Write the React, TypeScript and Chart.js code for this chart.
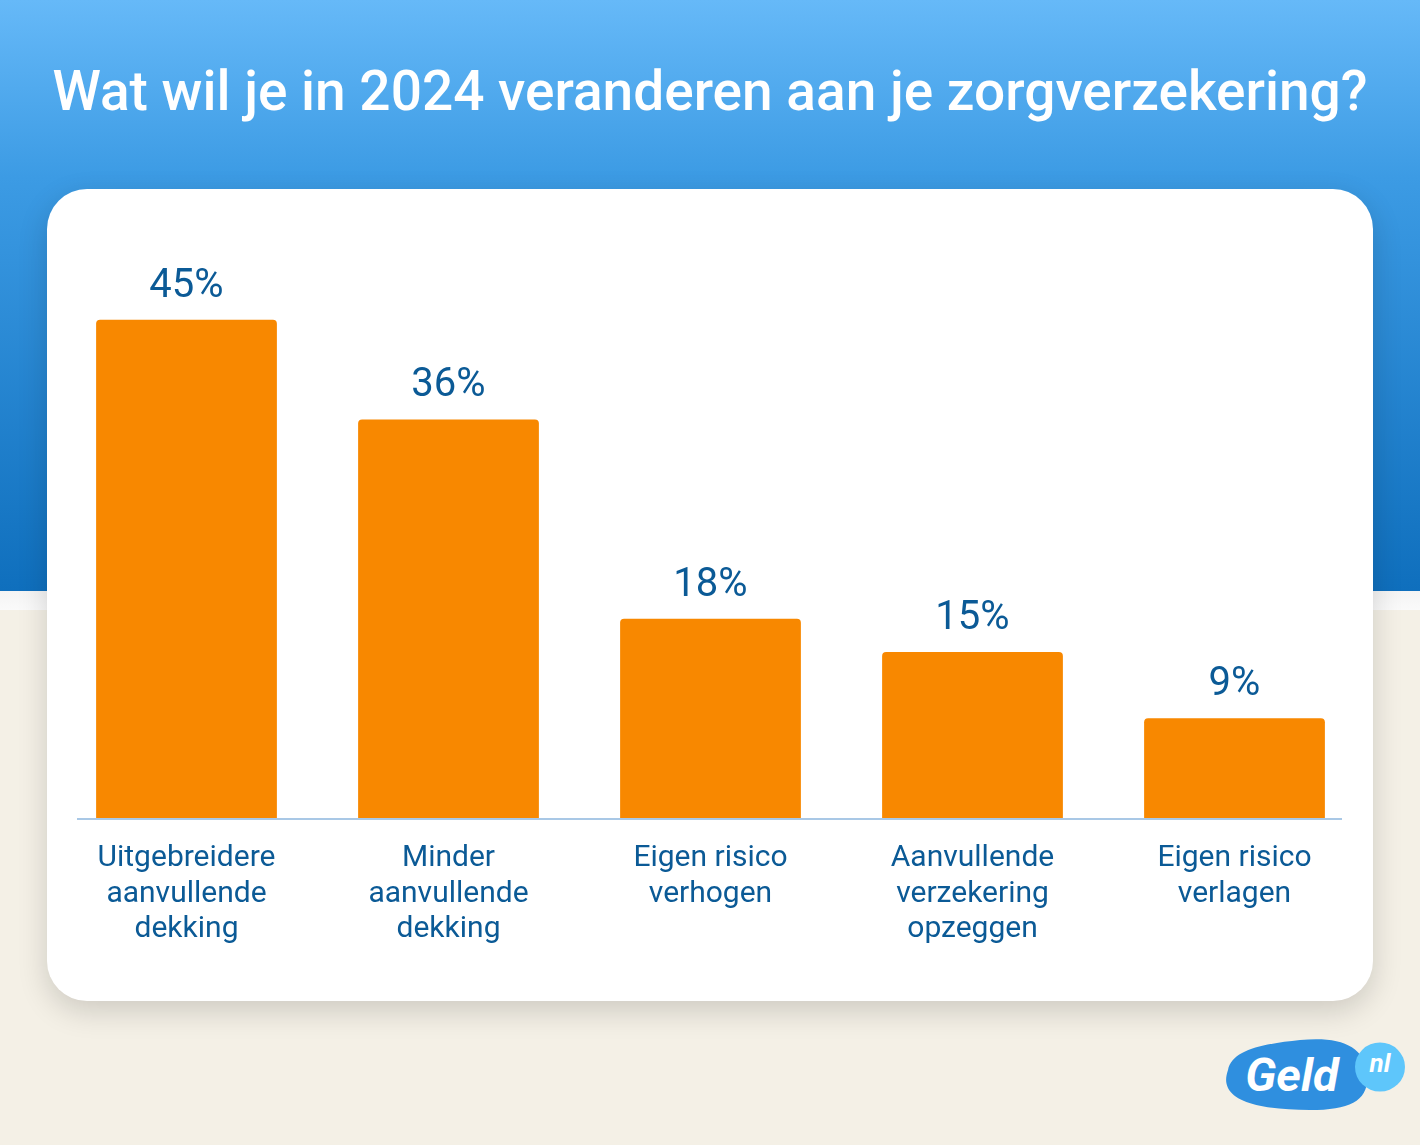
import React, { useEffect, useRef } from "react";
import { Chart, registerables } from "chart.js";

Chart.register(...registerables);

const title = "Wat wil je in 2024 veranderen aan je zorgverzekering?";
const categories: string[][] = [
  ["Uitgebreidere", "aanvullende", "dekking"],
  ["Minder", "aanvullende", "dekking"],
  ["Eigen risico", "verhogen"],
  ["Aanvullende", "verzekering", "opzeggen"],
  ["Eigen risico", "verlagen"],
];
const values = [45, 36, 18, 15, 9];
const valueLabels = ["45%", "36%", "18%", "15%", "9%"];
const yMax = 50;

const TEXT_BLUE = "#0b5a96";

const overlayPlugin = {
  id: "overlay",
  afterDatasetsDraw(chart: any) {
    const { ctx, chartArea, scales } = chart;
    const xs = scales.x;
    const ys = scales.y;
    ctx.save();
    ctx.strokeStyle = "#a9c8e6";
    ctx.lineWidth = 2;
    ctx.beginPath();
    ctx.moveTo(chartArea.left + 21.5, chartArea.bottom + 1);
    ctx.lineTo(chartArea.right - 23.5, chartArea.bottom + 1);
    ctx.stroke();

    ctx.fillStyle = TEXT_BLUE;
    ctx.textAlign = "center";
    ctx.textBaseline = "alphabetic";
    values.forEach((v, i) => {
      const px = xs.getPixelForValue(i);
      const py = ys.getPixelForValue(v);
      ctx.font = "40px Roboto";
      ctx.fillText(valueLabels[i], px, py - 23);
      ctx.font = "30px Roboto";
      categories[i].forEach((line, j) => {
        ctx.fillText(line, px, chartArea.bottom + 48 + j * 35.5);
      });
    });
    ctx.restore();
  },
};

function BarChart() {
  const ref = useRef<HTMLCanvasElement | null>(null);
  useEffect(() => {
    let chart: Chart | null = null;
    let cancelled = false;
    const make = () => {
      if (cancelled || !ref.current) return;
      chart = new Chart(ref.current, {
        type: "bar",
        data: {
          labels: categories.map((c) => c.join(" ")),
          datasets: [
            {
              data: values,
              backgroundColor: "#f88800",
              borderRadius: 4,
              borderSkipped: "bottom",
              categoryPercentage: 1,
              barPercentage: 0.69,
            },
          ],
        },
        options: {
          responsive: false,
          animation: false,
          maintainAspectRatio: false,
          layout: { padding: { left: 8.5, right: 7.5, top: 75.5, bottom: 183 } },
          plugins: { legend: { display: false }, tooltip: { enabled: false }, title: { display: false } },
          scales: {
            x: { display: false },
            y: { display: false, min: 0, max: yMax },
          },
        },
        plugins: [overlayPlugin],
      });
    };
    const fonts: any = (document as any).fonts;
    if (fonts && fonts.load) {
      Promise.all([fonts.load("40px Roboto"), fonts.load("30px Roboto")]).then(make, make);
    } else make();
    return () => {
      cancelled = true;
      if (chart) chart.destroy();
    };
  }, []);
  return <canvas ref={ref} width={1326} height={812} style={{ display: "block", width: 1326, height: 812 }} />;
}

function Logo() {
  return (
    <svg width={220} height={110} viewBox="1200 1020 220 110" style={{ position: "absolute", left: 1200, top: 1020 }}>
      <path
        d="M1228 1070 C1232 1050 1262 1044 1300 1040 C1340 1036 1364 1046 1367 1072 C1370 1100 1352 1110 1310 1110 C1268 1110 1236 1104 1228 1088 C1225 1082 1226 1076 1228 1070 Z"
        fill="#2f8fdf"
      />
      <ellipse cx={1380} cy={1067} rx={25} ry={24.5} fill="#5ec6fb" />
      <text x={1292} y={1091} textAnchor="middle" fill="#fff" fontFamily="Roboto" fontWeight={700} fontStyle="italic" fontSize={47}>
        Geld
      </text>
      <text x={1380} y={1072} textAnchor="middle" fill="#fff" fontFamily="Roboto" fontWeight={700} fontStyle="italic" fontSize={26}>
        nl
      </text>
    </svg>
  );
}

export default function App() {
  useEffect(() => {
    document.body.style.margin = "0";
  }, []);
  return (
    <div style={{ position: "absolute", left: 0, top: 0, width: 1420, height: 1145, overflow: "hidden", background: "#f4f0e6", fontFamily: "Roboto" }}>
      <div style={{ position: "absolute", left: 0, top: 0, width: 1420, height: 591, background: "linear-gradient(180deg, #66b9f8 0%, #3c9be4 30%, #0f6fbd 100%)" }} />
      <div style={{ position: "absolute", left: 0, top: 591, width: 1420, height: 19, background: "linear-gradient(180deg, #f4f4f4 0%, #fafafa 100%)" }} />
      <div
        style={{
          position: "absolute",
          left: 0,
          top: 61,
          width: 1420,
          lineHeight: "60px",
          fontSize: 55,
          fontWeight: 500,
          color: "#ffffff",
          textAlign: "center",
          whiteSpace: "nowrap",
        }}
      >
        {title}
      </div>
      <div
        style={{
          position: "absolute",
          left: 47,
          top: 189,
          width: 1326,
          height: 812,
          background: "#ffffff",
          borderRadius: 40,
          boxShadow: "0 10px 30px rgba(0,0,0,0.16)",
          overflow: "hidden",
        }}
      >
        <BarChart />
      </div>
      <Logo />
    </div>
  );
}
